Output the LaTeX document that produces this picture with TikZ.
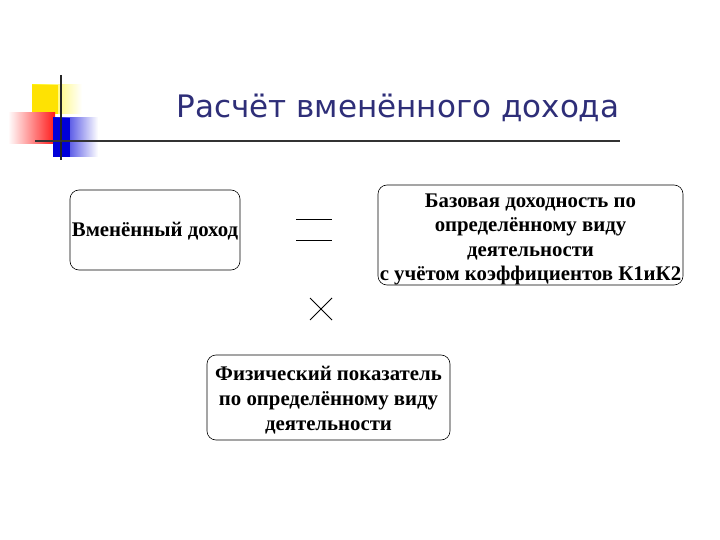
\documentclass[tikz,border=0pt]{standalone}
\usepackage{fontspec}
\setmainfont{Liberation Serif}
\newfontfamily\titlefont{DejaVu Sans}
\definecolor{titleblue}{RGB}{46,46,120}
\begin{document}
\begin{tikzpicture}[x=1pt,y=-1pt,
  box/.style={draw,rounded corners=9pt,line width=0.6pt,inner sep=0pt},
  boxtext/.style={align=center,font=\bfseries\fontsize{20.8}{24.3}\selectfont,inner sep=0pt},
  rule/.style={line width=0.8pt}]
\useasboundingbox (0,0) rectangle (720,540);
% logo
\shade[left color=yellow!90!orange,right color=white] (32,85) rectangle (82,114);
\fill[yellow!85!orange] (32,85) rectangle (58,114);
\shade[left color=white,right color=red!90] (8,113) rectangle (55,144);
\shade[left color=blue!85!black,right color=white] (53,118) rectangle (98,157);
\fill[blue!85!black] (53,118) rectangle (70,157);
\draw[line width=2.2pt,black!85] (61,75) -- (61,160);
\coordinate (hl) at (35,141);
\coordinate (hr) at (620,141);
\draw[line width=2pt,black!80] (hl) -- (hr);
% title
\node[font=\titlefont\fontsize{31}{36}\selectfont,text=titleblue] (title) at (398,108) {Расчёт вменённого дохода};
% boxes
\node[box,minimum width=170pt,minimum height=80pt] (a) at (155,230) {};
\node[boxtext] (at) at ([yshift=-1pt]a.center) {Вменённый доход};
\node[box,minimum width=305pt,minimum height=100pt] (b) at (530.5,235) {};
\node[boxtext] (bt) at ([yshift=-4.5pt]b.center) {Базовая доходность по\\определённому виду\\деятельности\\ с учётом коэффициентов К1иК2};
\node[box,minimum width=243pt,minimum height=85pt] (c) at (328.5,397.5) {};
\node[boxtext,font=\bfseries\fontsize{20.8}{25}\selectfont] (ct) at ([yshift=-3pt]c.center) {Физический показатель\\по определённому виду\\деятельности};
% equals sign
\coordinate (e1) at (296,219); \coordinate (e2) at (332,219);
\coordinate (e3) at (296,240); \coordinate (e4) at (332,240);
\draw[rule] (e1) -- (e2);
\draw[rule] (e3) -- (e4);
% multiplication cross
\coordinate (m1) at (310,298); \coordinate (m2) at (332,320);
\coordinate (m3) at (332,298); \coordinate (m4) at (310,320);
\draw[rule] (m1) -- (m2);
\draw[rule] (m3) -- (m4);
\end{tikzpicture}
\end{document}
